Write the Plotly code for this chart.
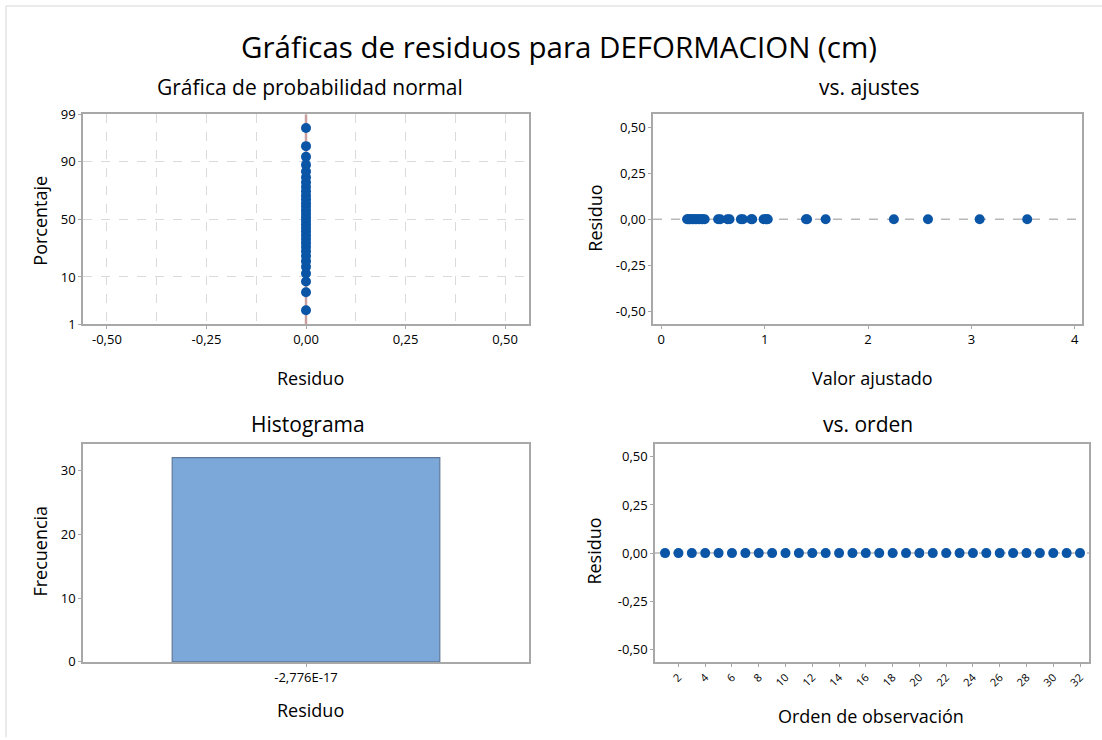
import plotly.graph_objects as go
from statistics import NormalDist

# ---------------- data ----------------
residuals = [0.0] * 32
percentiles = [2.16, 5.25, 8.33, 11.42, 14.51, 17.59, 20.68, 23.77, 26.85, 29.94,
               33.02, 36.11, 39.20, 42.28, 45.37, 48.46, 51.54, 54.63, 57.72, 60.80,
               63.89, 66.98, 70.06, 73.15, 76.23, 79.32, 82.41, 85.49, 88.58, 91.67,
               94.75, 97.84]
fitted = [0.25, 0.26, 0.27, 0.28, 0.30, 0.31, 0.33, 0.34, 0.36, 0.37, 0.39, 0.40,
          0.42, 0.55, 0.57, 0.64, 0.66, 0.77, 0.79, 0.87, 0.88, 0.99, 1.01, 1.02,
          1.03, 1.40, 1.41, 1.59, 2.25, 2.58, 3.08, 3.54]
order = list(range(1, 33))
hist_bins = ["-2,776E-17"]
hist_freq = [32]

prob_ticks = [1, 10, 50, 90, 99]
resid_ticks = [-0.50, -0.25, 0.00, 0.25, 0.50]
fit_ticks = [0, 1, 2, 3, 4]
freq_ticks = [0, 10, 20, 30]
order_ticks = list(range(2, 33, 2))

# ---------------- styles ----------------
W, H = 1102, 740
TOP_OFF, EFF_H = 7.0, 726.5   # observed vertical placement of the paper
FONT = "Open Sans"
BLUE = "#0A55A6"
AXIS = "#A8A8A8"
GRID = "#DADADA"

def pxx(a):
    return a / W

def pxy(y):
    return 1 - (y - TOP_OFF) / EFF_H

def px_x(a, b):
    return [pxx(a), pxx(b)]

def px_y(top, bottom):
    return [pxy(bottom), pxy(top)]

def fmt(v):
    return f"{v:.2f}".replace(".", ",")

nd = NormalDist()
z = [nd.inv_cdf(p / 100) for p in percentiles]
z_ticks = [nd.inv_cdf(p / 100) for p in prob_ticks]

fig = go.Figure()

# Normal probability plot
fig.add_trace(go.Scatter(x=[0, 0], y=[z_ticks[0], z_ticks[-1]], mode="lines",
                         line=dict(color="#C9A0A0", width=2.5),
                         xaxis="x", yaxis="y", showlegend=False, hoverinfo="skip"))
fig.add_trace(go.Scatter(x=residuals, y=z, mode="markers",
                         marker=dict(color=BLUE, size=10),
                         xaxis="x", yaxis="y", showlegend=False))

# vs fits
fig.add_trace(go.Scatter(x=fitted, y=residuals, mode="markers",
                         marker=dict(color=BLUE, size=10),
                         xaxis="x2", yaxis="y2", showlegend=False))

# histogram
fig.add_trace(go.Bar(x=hist_bins, y=hist_freq, width=0.6,
                     marker=dict(color="#7BA7D9", line=dict(color="#5F7898", width=1.2)),
                     xaxis="x3", yaxis="y3", showlegend=False))

# vs order
fig.add_trace(go.Scatter(x=order, y=residuals, mode="markers",
                         marker=dict(color=BLUE, size=10),
                         xaxis="x4", yaxis="y4", showlegend=False))

tickfont = dict(family=FONT, size=13, color="black")
common = dict(showline=True, linecolor=AXIS, linewidth=1.5, mirror=True,
              ticks="outside", ticklen=3, tickcolor=AXIS, tickfont=tickfont,
              zeroline=False)

fig.update_layout(
    width=W, height=H, autosize=False,
    margin=dict(l=0, r=0, t=0, b=0),
    paper_bgcolor="white", plot_bgcolor="white",
    font=dict(family=FONT, color="black"),
    xaxis=dict(domain=px_x(83, 529), anchor="y", range=[-0.56, 0.56],
               tickvals=resid_ticks, ticktext=[fmt(v) for v in resid_ticks],
               showgrid=True, gridcolor=GRID, griddash="dash", gridwidth=1,
               minor=dict(dtick=0.125, tick0=0, showgrid=True, gridcolor=GRID,
                          griddash="dash", gridwidth=1, ticks=""),
               **common),
    yaxis=dict(domain=px_y(113, 324), anchor="x",
               range=[z_ticks[0], z_ticks[-1]],
               tickvals=z_ticks, ticktext=[str(p) for p in prob_ticks],
               showgrid=True, gridcolor=GRID, griddash="dash", gridwidth=1,
               **common),
    xaxis2=dict(domain=px_x(653, 1082), anchor="y2", range=[-0.08, 4.07],
                tickvals=fit_ticks, ticktext=[str(v) for v in fit_ticks],
                showgrid=False, **common),
    yaxis2=dict(domain=px_y(113, 324), anchor="x2", range=[-0.57, 0.57],
                tickvals=resid_ticks, ticktext=[fmt(v) for v in resid_ticks],
                showgrid=False, **common),
    xaxis3=dict(domain=px_x(83, 529), anchor="y3", type="category",
                range=[-0.5, 0.5], showgrid=False, **common),
    yaxis3=dict(domain=px_y(445, 664), anchor="x3", range=[0, 34.1],
                tickvals=freq_ticks, ticktext=[str(v) for v in freq_ticks],
                showgrid=False, **common),
    xaxis4=dict(domain=px_x(655, 1089), anchor="y4", range=[0.25, 32.67],
                tickvals=order_ticks, ticktext=[str(v) for v in order_ticks],
                tickangle=-45, showgrid=False,
                **{**common, "tickfont": dict(family=FONT, size=11, color="black")}),
    yaxis4=dict(domain=px_y(445, 664), anchor="x4", range=[-0.565, 0.565],
                tickvals=resid_ticks, ticktext=[fmt(v) for v in resid_ticks],
                showgrid=False, **common),
)

# reference lines at zero residual
for xr, yr in [("x2", "y2"), ("x4", "y4")]:
    fig.add_shape(type="line", xref=f"{xr} domain", yref=yr, x0=0, x1=1, y0=0, y1=0,
                  line=dict(color="#B8B8B8", width=1.5, dash="dash"), layer="below")

# outer frame lines
fig.add_shape(type="line", xref="paper", yref="paper", x0=pxx(6), x1=1, y0=pxy(4), y1=pxy(4),
              line=dict(color="#D6D6D6", width=1))
fig.add_shape(type="line", xref="paper", yref="paper", x0=pxx(6), x1=pxx(6), y0=pxy(740), y1=pxy(4),
              line=dict(color="#D6D6D6", width=1))

def ann(text, x, y, size, angle=0):
    fig.add_annotation(text=text, x=pxx(x), y=pxy(y), xref="paper", yref="paper",
                       showarrow=False, textangle=angle, xanchor="center", yanchor="middle",
                       font=dict(family=FONT, size=size, color="black"))

ann("Gráficas de residuos para DEFORMACION (cm)", 559, 45, 29.5)
ann("Gráfica de probabilidad normal", 310, 85, 21)
ann("vs. ajustes", 869, 85, 21)
ann("Histograma", 308, 425, 21)
ann("vs. orden", 868, 425, 21)

ann("Residuo", 310, 378, 18)
ann("Valor ajustado", 872, 378, 18)
ann("Residuo", 310, 712, 18)
ann("Orden de observación", 871, 718, 18)

ann("Porcentaje", 40, 220, 18, -90)
ann("Residuo", 595, 218, 18, -90)
ann("Frecuencia", 40, 553, 18, -90)
ann("Residuo", 594, 553, 18, -90)

fig.write_html("out.html")
